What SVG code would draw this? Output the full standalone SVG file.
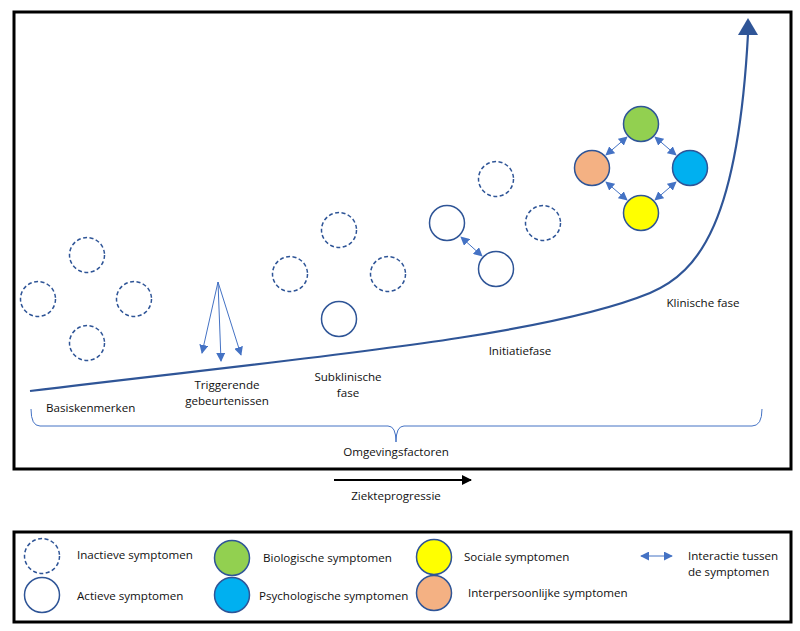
<svg xmlns="http://www.w3.org/2000/svg" width="800" height="631" viewBox="0 0 800 631">
<style>
  text { font-family: "Open Sans", "Liberation Sans", sans-serif; font-size: 11.6px; fill: #111; }
  .mid { text-anchor: middle; }
  .inactive { fill: #fff; stroke: #2F5597; stroke-width: 1.5; stroke-dasharray: 4 2.5; }
  .active { fill: #fff; stroke: #2F5597; stroke-width: 1.5; }
  .col { stroke: #2F5597; stroke-width: 1.5; }
  .link { stroke: #4472C4; stroke-width: 1; fill: none; marker-start: url(#ab); marker-end: url(#ab); }
  .trig { stroke: #4472C4; stroke-width: 1; fill: none; marker-end: url(#ab); }
  .frame { fill: none; stroke: #000; stroke-width: 3; }
</style>
<defs>
  <marker id="ab" viewBox="0 0 10 10" refX="9" refY="5" markerWidth="9" markerHeight="9" markerUnits="userSpaceOnUse" orient="auto-start-reverse">
    <path d="M0,0 L10,5 L0,10 z" fill="#4472C4"/>
  </marker>
  <marker id="blk" viewBox="0 0 10 10" refX="9" refY="5" markerWidth="10" markerHeight="10" markerUnits="userSpaceOnUse" orient="auto">
    <path d="M0,0 L10,5 L0,10 z" fill="#000"/>
  </marker>
</defs>
<rect width="800" height="631" fill="#fff"/>

<rect id="main-frame" class="frame" x="14" y="12" width="777" height="457"/>

<g id="curve">
  <path d="M30,391 C300,358 540,338 650,293 C700,272 738,220 748,34" fill="none" stroke="#2F5597" stroke-width="2.2"/>
  <path d="M748,18 L758,35 L738,35 z" fill="#2F5597"/>
</g>

<g id="brace">
  <path d="M31,409 Q31,426 40,426 L388,426 Q396,426 396,442 Q396,426 404,426 L752,426 Q762,426 762,409" fill="none" stroke="#4472C4" stroke-width="1"/>
</g>

<g id="nodes-basis">
  <circle class="inactive" cx="87" cy="255" r="17.5"/>
  <circle class="inactive" cx="38" cy="299" r="17.5"/>
  <circle class="inactive" cx="134" cy="299" r="17.5"/>
  <circle class="inactive" cx="87" cy="343" r="17.5"/>
</g>

<g id="nodes-subklinisch">
  <circle class="inactive" cx="339" cy="230" r="17.5"/>
  <circle class="inactive" cx="290" cy="274" r="17.5"/>
  <circle class="inactive" cx="388" cy="274" r="17.5"/>
  <circle class="active" cx="339" cy="319" r="17.5"/>
</g>

<g id="nodes-initiatie">
  <circle class="inactive" cx="496" cy="179" r="17.5"/>
  <circle class="inactive" cx="543" cy="223" r="17.5"/>
  <circle class="active" cx="447" cy="223" r="17.5"/>
  <circle class="active" cx="496" cy="269" r="17.5"/>
</g>

<g id="nodes-klinisch">
  <circle class="col" cx="641" cy="124" r="17.5" fill="#92D050"/>
  <circle class="col" cx="592" cy="168" r="17.5" fill="#F4B183"/>
  <circle class="col" cx="690" cy="168" r="17.5" fill="#00B0F0"/>
  <circle class="col" cx="641" cy="213" r="17.5" fill="#FFFF00"/>
</g>

<g id="connectors">
  <line class="link" x1="461" y1="237" x2="482" y2="256"/>
  <line class="link" x1="627" y1="137" x2="606" y2="155"/>
  <line class="link" x1="655" y1="137" x2="676" y2="155"/>
  <line class="link" x1="606" y1="182" x2="627" y2="200"/>
  <line class="link" x1="676" y1="182" x2="655" y2="200"/>
  <line class="trig" x1="218" y1="282" x2="202" y2="353"/>
  <line class="trig" x1="218" y1="282" x2="221" y2="361"/>
  <line class="trig" x1="218" y1="282" x2="241" y2="355"/>
  <line x1="334" y1="480" x2="471" y2="480" stroke="#000" stroke-width="2" marker-end="url(#blk)"/>
</g>

<g id="labels">
  <text x="46" y="412">Basiskenmerken</text>
  <text class="mid" x="227" y="389">Triggerende</text>
  <text class="mid" x="227" y="405">gebeurtenissen</text>
  <text class="mid" x="348" y="381">Subklinische</text>
  <text class="mid" x="348" y="397">fase</text>
  <text class="mid" x="520" y="355">Initiatiefase</text>
  <text class="mid" x="703" y="307">Klinische fase</text>
  <text class="mid" x="396" y="456">Omgevingsfactoren</text>
  <text class="mid" x="396" y="500">Ziekteprogressie</text>
</g>

<g id="legend">
  <rect class="frame" x="14" y="532" width="777" height="90" stroke-width="2.5"/>
  <circle class="inactive" cx="42" cy="556" r="17.5"/>
  <text x="77" y="559">Inactieve symptomen</text>
  <circle class="active" cx="42" cy="595" r="17.5"/>
  <text x="77" y="600">Actieve symptomen</text>
  <circle class="col" cx="232" cy="558" r="17.5" fill="#92D050"/>
  <text x="263" y="562">Biologische symptomen</text>
  <circle class="col" cx="232" cy="595" r="17.5" fill="#00B0F0"/>
  <text x="259" y="600">Psychologische symptomen</text>
  <circle class="col" cx="434" cy="557" r="17.5" fill="#FFFF00"/>
  <text x="464" y="561">Sociale symptomen</text>
  <circle class="col" cx="434" cy="593" r="17.5" fill="#F4B183"/>
  <text x="468" y="597">Interpersoonlijke symptomen</text>
  <line class="link" x1="641" y1="556" x2="672" y2="556"/>
  <text x="688" y="560">Interactie tussen</text>
  <text x="688" y="576">de symptomen</text>
</g>
</svg>
